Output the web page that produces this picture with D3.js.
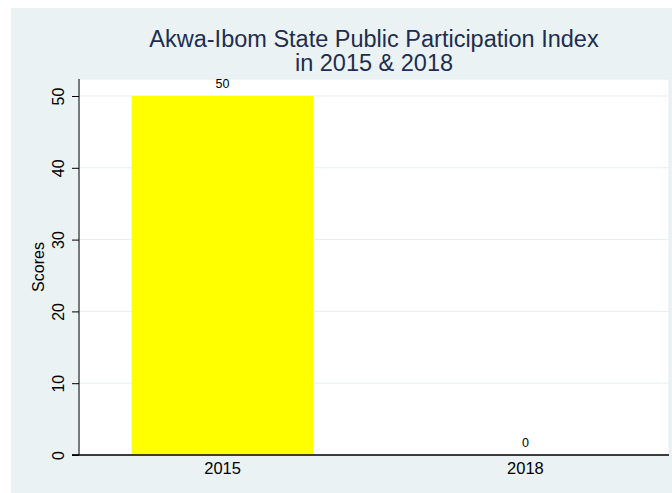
<!DOCTYPE html>
<html>
<head>
<meta charset="utf-8">
<script src="https://cdn.jsdelivr.net/npm/d3@7"></script>
<style>
  body { margin: 0; background: #fff; }
  text { font-family: "Liberation Sans", Arial, sans-serif; }
</style>
</head>
<body>
<svg id="dessin" width="672" height="493"></svg>
<script>
let annees = ["2015", "2018"];
let scores = [50, 0];
let ticksY = [0, 10, 20, 30, 40, 50];
let titre = ["Akwa-Ibom State Public Participation Index", "in 2015 & 2018"];

const svg = d3.select("#dessin");

// fond du graphique
svg.append("rect")
  .attr("x", 11).attr("y", 8)
  .attr("width", 661).attr("height", 485)
  .style("fill", "#eaf2f3");

const gauche = 79, droite = 669, haut = 79, bas = 455;

svg.append("rect")
  .attr("x", gauche).attr("y", haut)
  .attr("width", droite - gauche).attr("height", bas - haut)
  .style("fill", "#fff")
  .style("stroke", "#e3ecee")
  .style("stroke-width", 1);

const x = d3.scaleBand().domain(annees).range([gauche, droite])
  .paddingInner(0.4).paddingOuter(0.174);
const y = d3.scaleLinear().domain([0, 50]).range([bas, 96]);

// grille
svg.append("g")
  .selectAll("line")
  .data(ticksY.slice(1))
  .enter()
  .append("line")
  .attr("x1", gauche).attr("x2", droite)
  .attr("y1", d => y(d)).attr("y2", d => y(d))
  .style("stroke", "#e6eef0")
  .style("stroke-width", 1);

// barres
svg.append("g")
  .selectAll("rect")
  .data(scores)
  .enter()
  .append("rect")
  .attr("x", (d, i) => x(annees[i]))
  .attr("y", d => y(d))
  .attr("width", x.bandwidth())
  .attr("height", d => bas - y(d))
  .style("fill", "#ffff00");

// etiquettes des barres
svg.append("g")
  .selectAll("text")
  .data(scores)
  .enter()
  .append("text")
  .attr("x", (d, i) => x(annees[i]) + x.bandwidth() / 2)
  .attr("y", d => y(d) - 8)
  .attr("text-anchor", "middle")
  .style("font-size", "12.5px")
  .style("fill", "#000")
  .text(d => d);

// axe Y
const axeY = d3.axisLeft(y).tickValues(ticksY).tickSize(7).tickPadding(4);
const gY = svg.append("g")
  .attr("transform", `translate(${gauche},0)`)
  .call(axeY);
gY.select(".domain").attr("d", `M-7,${bas}H0V${haut}`).style("stroke", "#000");
gY.selectAll(".tick line").style("stroke", "#000");
gY.selectAll(".tick text")
  .attr("x", 0).attr("dy", 0)
  .attr("transform", "translate(-15,0) rotate(-90)")
  .attr("text-anchor", "middle")
  .style("font-size", "16px")
  .style("fill", "#000");

// axe X
const axeX = d3.axisBottom(x).tickSize(0).tickPadding(7);
const gX = svg.append("g")
  .attr("transform", `translate(0,${bas})`)
  .call(axeX);
gX.select(".domain").attr("d", `M${gauche - 7},0H${droite}`).style("stroke", "#000").style("stroke-width", 1.3);
gX.selectAll(".tick text")
  .style("font-size", "16.5px")
  .style("fill", "#000");

// titre de l'axe Y
svg.append("text")
  .attr("transform", `translate(44,${(haut + bas) / 2}) rotate(-90)`)
  .attr("text-anchor", "middle")
  .style("font-size", "16px")
  .style("fill", "#000")
  .text("Scores");

// titre
svg.append("g")
  .selectAll("text")
  .data(titre)
  .enter()
  .append("text")
  .attr("x", (gauche + droite) / 2)
  .attr("y", (d, i) => 47 + i * 24)
  .attr("text-anchor", "middle")
  .style("font-size", "23.5px")
  .style("fill", "#1e2d50")
  .text(d => d);
</script>
</body>
</html>
